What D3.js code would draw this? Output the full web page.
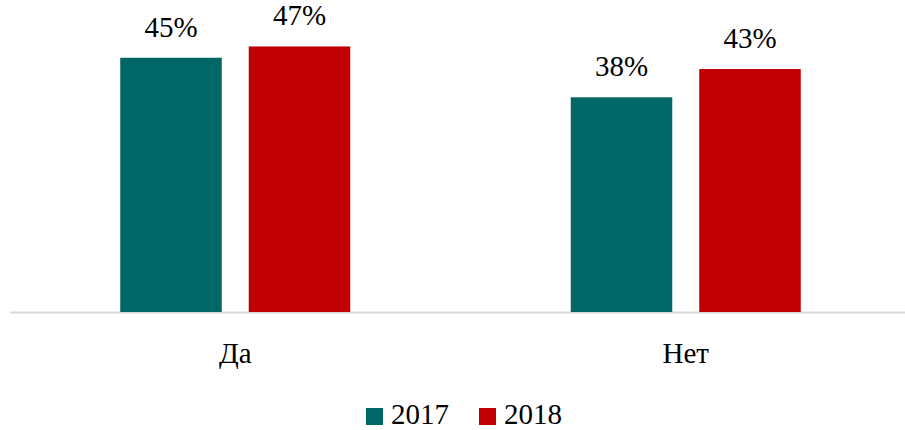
<!DOCTYPE html>
<html>
<head>
<meta charset="utf-8">
<script src="https://cdn.jsdelivr.net/npm/d3@7"></script>
<style>
  body { margin: 0; background: #fff; }
</style>
</head>
<body>
<script>
const categories = ['Да', 'Нет'];
const years = ['2017', '2018'];
const values2017 = [45, 38];
const values2018 = [47, 43];
const colors = ['#006666', '#c00000'];

const w = 905, h = 430;
const baseY = 312;
const serif = '"Liberation Serif", "DejaVu Serif", serif';

const svg = d3.select('body').append('svg')
  .attr('width', w)
  .attr('height', h);

const x = d3.scaleBand()
  .domain(categories)
  .range([10, 911]);

const inner = d3.scaleBand()
  .domain(years)
  .range([x.bandwidth()/2 - 115, x.bandwidth()/2 + 115])
  .paddingInner(0.21);

const y = d3.scaleLinear()
  .domain([0, 50])
  .range([baseY, baseY - 5.65*50]);

const series = years.map((yr, i) => ({
  year: yr,
  color: colors[i],
  values: i === 0 ? values2017 : values2018
}));

// axis line
svg.append('line')
  .attr('x1', 10).attr('x2', w)
  .attr('y1', baseY + 0.5).attr('y2', baseY + 0.5)
  .attr('stroke', '#d9d9d9')
  .attr('stroke-width', 2);

const g = svg.selectAll('g.series')
  .data(series)
  .enter().append('g')
  .attr('class', 'series');

g.selectAll('rect')
  .data(s => s.values.map((v, i) => ({v, cat: categories[i], year: s.year, color: s.color})))
  .enter().append('rect')
  .attr('x', d => x(d.cat) + inner(d.year))
  .attr('width', inner.bandwidth())
  .attr('y', d => y(d.v))
  .attr('height', d => y(0) - y(d.v))
  .attr('fill', d => d.color);

g.selectAll('text')
  .data(s => s.values.map((v, i) => ({v, cat: categories[i], year: s.year})))
  .enter().append('text')
  .attr('x', d => x(d.cat) + inner(d.year) + inner.bandwidth()/2)
  .attr('y', d => y(d.v) - 21)
  .attr('text-anchor', 'middle')
  .attr('font-family', serif)
  .attr('font-size', 29)
  .attr('fill', '#000')
  .text(d => d.v + '%');

// category labels
svg.selectAll('text.cat')
  .data(categories)
  .enter().append('text')
  .attr('class', 'cat')
  .attr('x', d => x(d) + x.bandwidth()/2)
  .attr('y', 363)
  .attr('text-anchor', 'middle')
  .attr('font-family', serif)
  .attr('font-size', 29)
  .attr('fill', '#000')
  .text(d => d);

// legend
const legendX = [366, 479];
const lg = svg.selectAll('g.legend')
  .data(series)
  .enter().append('g')
  .attr('class', 'legend')
  .attr('transform', (d, i) => `translate(${legendX[i]},408)`);

lg.append('rect')
  .attr('width', 17).attr('height', 17)
  .attr('fill', d => d.color);

lg.append('text')
  .attr('x', 25)
  .attr('y', 16)
  .attr('font-family', serif)
  .attr('font-size', 29)
  .attr('fill', '#000')
  .text(d => d.year);
</script>
</body>
</html>
